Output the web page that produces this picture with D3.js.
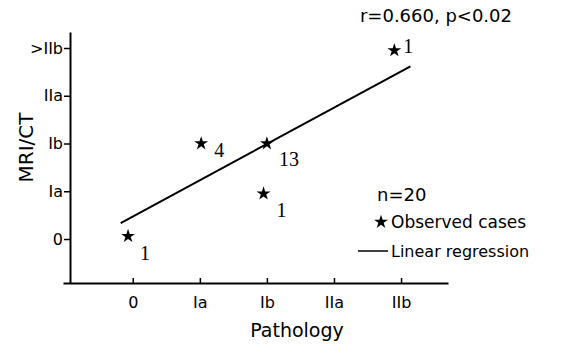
<!DOCTYPE html>
<html><head><meta charset="utf-8">
<script src="https://cdn.jsdelivr.net/npm/d3@7"></script>
<style>
body{margin:0;background:#fff;}
svg{display:block;}
.sans{font-family:"DejaVu Sans",Verdana,sans-serif;}
.serif{font-family:"Liberation Serif","Times New Roman",serif;}
</style></head>
<body>
<script>
// ---- data ----
const pathologyLabels = ["0", "Ia", "Ib", "IIa", "IIb"];
const mriLabels = ["0", "Ia", "Ib", "IIa", ">IIb"];
const casePathology = [-0.07, 1.02, 2.0, 1.95, 3.9];   // x (category index, as plotted)
const caseMri       = [0.06, 2.0, 2.0, 0.95, 3.95];   // y (category index, as plotted)
const caseCounts    = ["1", "4", "13", "1", "1"];
const regressionX   = [-0.18, 4.14];
const regressionIntercept = 0.47;
const regressionSlope = 0.76;
const statsText = "r=0.660, p<0.02";
const nText = "n=20";

// ---- layout ----
const W = 571, H = 347;
const labelOffsets = [[17, 17], [18, 6], [22, 15], [18, 16], [14, -4]];
const svg = d3.select("body").append("svg").attr("width", W).attr("height", H);

const x = d3.scaleLinear().domain([-1.04, 4.7]).range([63, 448]);
const y = d3.scaleLinear().domain([-0.921, 4.335]).range([283, 32]);
const axisX = 70;

// x axis (ticks inward)
const gx = svg.append("g").attr("transform", `translate(0,${y.range()[0]})`)
  .call(d3.axisBottom(x).tickValues(d3.range(pathologyLabels.length))
    .tickFormat(i => pathologyLabels[i]).tickSize(-5).tickSizeOuter(0).tickPadding(14));
gx.select(".domain").attr("stroke-width", 2);
gx.selectAll(".tick line").attr("stroke-width", 1.5);
gx.selectAll(".tick text").attr("class", "sans").attr("font-size", 16).attr("fill", "#000");

// y axis
const gy = svg.append("g").attr("transform", `translate(${axisX},0)`)
  .call(d3.axisLeft(y).tickValues(d3.range(mriLabels.length))
    .tickFormat(i => mriLabels[i]).tickSize(6).tickSizeOuter(0).tickPadding(1));
gy.select(".domain").attr("stroke-width", 2);
gy.selectAll(".tick line").attr("stroke-width", 1.5);
gy.selectAll(".tick text").attr("class", "sans").attr("font-size", 16).attr("fill", "#000");

// axis titles
svg.append("text").attr("class", "sans").attr("font-size", 20)
  .attr("transform", `translate(33,${y(2) + 4}) rotate(-90)`).attr("text-anchor", "middle")
  .text("MRI/CT");
svg.append("text").attr("class", "sans").attr("font-size", 19)
  .attr("x", 297).attr("y", 337).attr("text-anchor", "middle").text("Pathology");

// regression line
const line = d3.line().x(d => x(d)).y(d => y(regressionIntercept + regressionSlope * d));
svg.append("path").attr("d", line(regressionX)).attr("fill", "none")
  .attr("stroke", "#000").attr("stroke-width", 2);

// stars
const star = d3.symbol().type(d3.symbolStar).size(60);
svg.selectAll("path.case").data(casePathology).join("path").attr("class", "case")
  .attr("d", star).attr("fill", "#000")
  .attr("transform", (d, i) => `translate(${x(d)},${y(caseMri[i])})`);
svg.selectAll("text.count").data(caseCounts).join("text").attr("class", "count serif")
  .attr("font-size", 20).attr("text-anchor", "middle").attr("dominant-baseline", "central")
  .attr("x", (d, i) => x(casePathology[i]) + labelOffsets[i][0])
  .attr("y", (d, i) => y(caseMri[i]) + labelOffsets[i][1])
  .text(d => d);

// stats + legend
svg.append("text").attr("class", "sans").attr("font-size", 18)
  .attr("x", 512).attr("y", 22).attr("text-anchor", "end").text(statsText);
svg.append("text").attr("class", "sans").attr("font-size", 18)
  .attr("x", 377).attr("y", 201).text(nText);
svg.append("path").attr("d", star).attr("fill", "#000").attr("transform", "translate(381,222)");
svg.append("text").attr("class", "sans").attr("font-size", 17)
  .attr("x", 391).attr("y", 228).text("Observed cases");
svg.append("line").attr("x1", 358).attr("x2", 388).attr("y1", 251).attr("y2", 251)
  .attr("stroke", "#000").attr("stroke-width", 1.5);
svg.append("text").attr("class", "sans").attr("font-size", 16)
  .attr("x", 391).attr("y", 257).text("Linear regression");
</script>
</body></html>
